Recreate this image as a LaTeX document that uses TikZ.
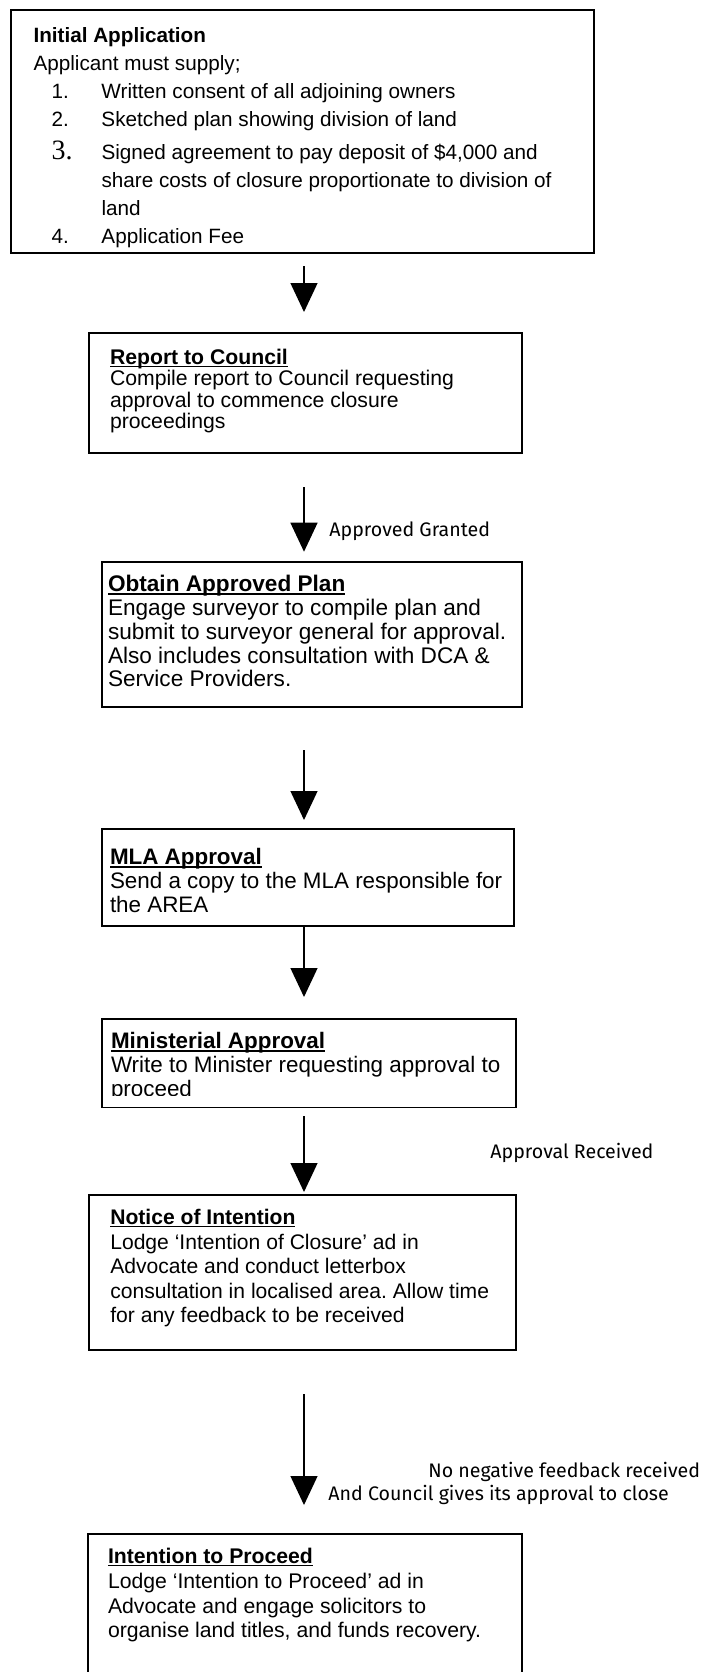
\documentclass[tikz,border=0pt]{standalone}
\usepackage{fontspec}
\setmainfont{Liberation Sans}
\newfontfamily\notefont{Fira Sans}
\newfontfamily\numfont{Liberation Serif}
\usetikzlibrary{arrows.meta}
\frenchspacing

% underlined bold heading of a stage
\newsavebox\headbox
\newcommand{\stagehead}[1]{\sbox\headbox{\bfseries #1}\usebox\headbox\llap{\rule[-1.4pt]{\wd\headbox}{0.7pt}}}
% width, height, height of first line, text
\newcommand{\stagetext}[4]{\parbox[t][#2][t]{#1}{\raggedright\rule{0pt}{#3}#4}}

\tikzset{
	stage/.style={draw, line width=1pt, anchor=north west, inner ysep=0pt},
	flow/.style={line width=0.65pt, -{Triangle[width=13.5pt,length=14.5pt]}},
	note/.style={anchor=west, inner sep=0pt, font=\notefont\fontsize{9.8pt}{12pt}\selectfont}
}

\begin{document}
\begin{tikzpicture}[x=0.5pt, y=-0.5pt]
	\useasboundingbox (0,0) rectangle (701,1672);
	\clip (0,0) rectangle (701,1672);
	\coordinate (spine) at (304,0);

	% stages
	\node[stage, inner xsep=11.5pt, font=\fontsize{10.35pt}{14pt}\selectfont] (apply) at (9.5,8.5)
		{\stagetext{268.75pt}{121.75pt}{16.7pt}{\textbf{Initial Application}\\
		Applicant must supply;\\
		\hspace*{9pt}\makebox[25pt][l]{1.}Written consent of all adjoining owners\\
		\hspace*{9pt}\makebox[25pt][l]{2.}Sketched plan showing division of land\\[2.5pt]
		\hspace*{9pt}\makebox[25pt][l]{\numfont\fontsize{14pt}{14pt}\selectfont 3.}Signed agreement to pay deposit of \$4,000 and\\
		\hspace*{34pt}share costs of closure proportionate to division of\\
		\hspace*{34pt}land\\
		\hspace*{9pt}\makebox[25pt][l]{4.}Application Fee}};
	\node[stage, inner xsep=10.75pt, font=\fontsize{10.6pt}{10.65pt}\selectfont] (council) at (87.5,332)
		{\stagetext{195.25pt}{60pt}{15.7pt}{\stagehead{Report to Council}\\
		Compile report to Council requesting\\
		approval to commence closure\\
		proceedings}};
	\node[stage, inner xsep=3pt, font=\fontsize{11.3pt}{11.9pt}\selectfont] (plan) at (101,561)
		{\stagetext{204pt}{72.5pt}{14.85pt}{\stagehead{Obtain Approved Plan}\\
		Engage surveyor to compile plan and\\
		submit to surveyor general for approval.\\
		Also includes consultation with DCA \&\\
		Service Providers.}};
	\node[stage, inner xsep=4pt, font=\fontsize{11.2pt}{11.9pt}\selectfont] (mla) at (101,828)
		{\stagetext{198pt}{48.5pt}{17.85pt}{\stagehead{MLA Approval}\\
		Send a copy to the MLA responsible for\\
		the AREA}};
	\node[stage, inner xsep=4.5pt, font=\fontsize{11.2pt}{12pt}\selectfont] (minister) at (101,1018)
		{\stagetext{198pt}{44pt}{14.85pt}{\stagehead{Ministerial Approval}\\
		Write to Minister requesting approval to\\
		proceed}};
	\fill[white] ([xshift=1pt,yshift=0.5pt]minister.south west) rectangle ([xshift=-1pt,yshift=6pt]minister.south east);
	\node[stage, inner xsep=10.9pt, font=\fontsize{10.55pt}{12.3pt}\selectfont] (notice) at (87.5,1194)
		{\stagetext{191.95pt}{77.65pt}{14.7pt}{\stagehead{Notice of Intention}\\
		Lodge ‘Intention of Closure’ ad in\\
		Advocate and conduct letterbox\\
		consultation in localised area. Allow time\\
		for any feedback to be received}};
	\node[stage, inner xsep=10pt, font=\fontsize{10.6pt}{12.4pt}\selectfont] (proceed) at (87,1533)
		{\stagetext{197pt}{80pt}{14.7pt}{\stagehead{Intention to Proceed}\\
		Lodge ‘Intention to Proceed’ ad in\\
		Advocate and engage solicitors to\\
		organise land titles, and funds recovery.}};

	% arrows
	\draw[flow, shorten <=6pt, shorten >=10pt] (apply.south -| spine) -- (council.north -| spine);
	\draw[flow, shorten <=16.5pt, shorten >=4.65pt] (council.south -| spine) -- (plan.north -| spine);
	\draw[flow, shorten <=21pt, shorten >=4pt] (plan.south -| spine) -- (mla.north -| spine);
	\draw[flow, shorten >=10.5pt] (mla.south -| spine) -- (minister.north -| spine);
	\draw[flow, shorten <=4pt, shorten >=1pt] (minister.south -| spine) -- (notice.north -| spine);
	\draw[flow, shorten <=21.5pt, shorten >=14pt] (notice.south -| spine) -- (proceed.north -| spine);

	% arrow notes
	\node[note] (granted) at (329,531) {Approved Granted};
	\node[note] (received) at (490,1153) {Approval Received};
	\node[note] (nofeedback) at (428,1471.7) {No negative feedback received};
	\node[note] (closeok) at (328,1495) {And Council gives its approval to close};
\end{tikzpicture}
\end{document}
